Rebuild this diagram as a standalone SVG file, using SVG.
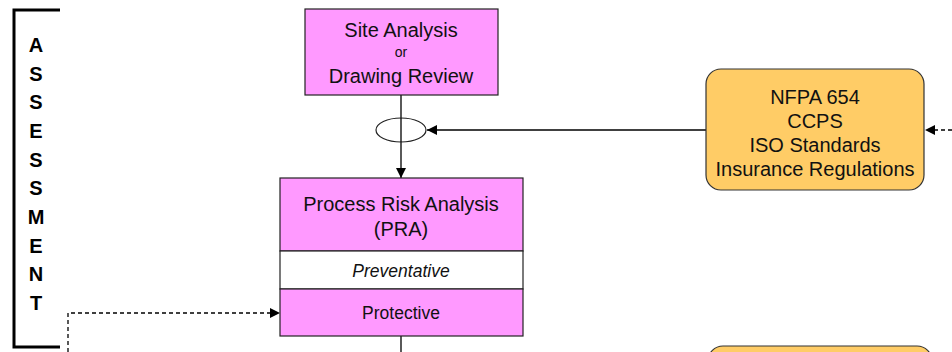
<svg xmlns="http://www.w3.org/2000/svg" width="952" height="352" viewBox="0 0 952 352">
  <defs>
    <marker id="arrow" viewBox="0 0 10 10" refX="10" refY="5" markerWidth="10" markerHeight="10" markerUnits="userSpaceOnUse" orient="auto">
      <path d="M0,0 L10,5 L0,10 z" fill="#000"/>
    </marker>
  </defs>
  <style>
    text { font-family: "Liberation Sans", Arial, sans-serif; fill: #111; text-anchor: middle; }
    .pink { fill: #FF99FF; stroke: #222; stroke-width: 1.2; }
    .orange { fill: #FFCC66; stroke: #333; stroke-width: 1.2; }
    .plain { fill: #FFFFFF; stroke: #222; stroke-width: 1.2; }
    .lbl { font-size: 20px; }
    .small { font-size: 17.5px; }
    .tiny { font-size: 14px; }
    .side { font-size: 20px; font-weight: bold; fill: #000; }
    .conn { fill: none; stroke: #000; stroke-width: 1.3; }
    .dash { stroke-dasharray: 4 3; }
  </style>

  <!-- stage bracket -->
  <g id="assessment">
    <path d="M60,10 L14,10 L14,347 L60,347" fill="none" stroke="#000" stroke-width="3"/>
    <text class="side" x="36" y="52">A</text>
    <text class="side" x="36" y="81">S</text>
    <text class="side" x="36" y="109">S</text>
    <text class="side" x="36" y="138">E</text>
    <text class="side" x="36" y="167">S</text>
    <text class="side" x="36" y="195">S</text>
    <text class="side" x="36" y="224">M</text>
    <text class="side" x="36" y="253">E</text>
    <text class="side" x="36" y="281">N</text>
    <text class="side" x="36" y="310">T</text>
  </g>

  <!-- connectors -->
  <g id="connectors">
    <line class="conn" x1="401" y1="95" x2="401" y2="178" marker-end="url(#arrow)"/>
    <line class="conn" x1="706" y1="130" x2="427" y2="130" marker-end="url(#arrow)"/>
    <line class="conn dash" x1="952" y1="130" x2="925" y2="130" marker-end="url(#arrow)"/>
    <path class="conn dash" d="M68,352 L68,313 L280,313" marker-end="url(#arrow)"/>
    <line class="conn" x1="401" y1="336" x2="401" y2="352"/>
  </g>

  <g id="junction">
    <ellipse cx="401" cy="130" rx="25" ry="12" fill="#fff" stroke="#222" stroke-width="1.2"/>
    <line class="conn" x1="401" y1="118" x2="401" y2="142"/>
  </g>

  <g id="site-analysis">
    <rect class="pink" x="305" y="9" width="193" height="86"/>
    <text class="lbl" x="401" y="37">Site Analysis</text>
    <text class="tiny" x="401" y="57">or</text>
    <text class="lbl" x="401" y="83">Drawing Review</text>
  </g>

  <g id="standards">
    <rect class="orange" x="706" y="69" width="218" height="121" rx="15" ry="15"/>
    <text class="lbl" x="815" y="104">NFPA 654</text>
    <text class="lbl" x="815" y="128">CCPS</text>
    <text class="lbl" x="815" y="152">ISO Standards</text>
    <text class="lbl" x="815" y="176">Insurance Regulations</text>
  </g>

  <g id="pra">
    <rect class="pink" x="280" y="178" width="243" height="73"/>
    <rect class="plain" x="280" y="251" width="243" height="38"/>
    <rect class="pink" x="280" y="289" width="243" height="47"/>
    <text class="lbl" x="401" y="211">Process Risk Analysis</text>
    <text class="lbl" x="401" y="236">(PRA)</text>
    <text class="small" x="401" y="277" font-style="italic">Preventative</text>
    <text class="small" x="401" y="319">Protective</text>
  </g>

  <g id="next-standards">
    <rect class="orange" x="708" y="346" width="224" height="40" rx="15" ry="15"/>
  </g>
</svg>
